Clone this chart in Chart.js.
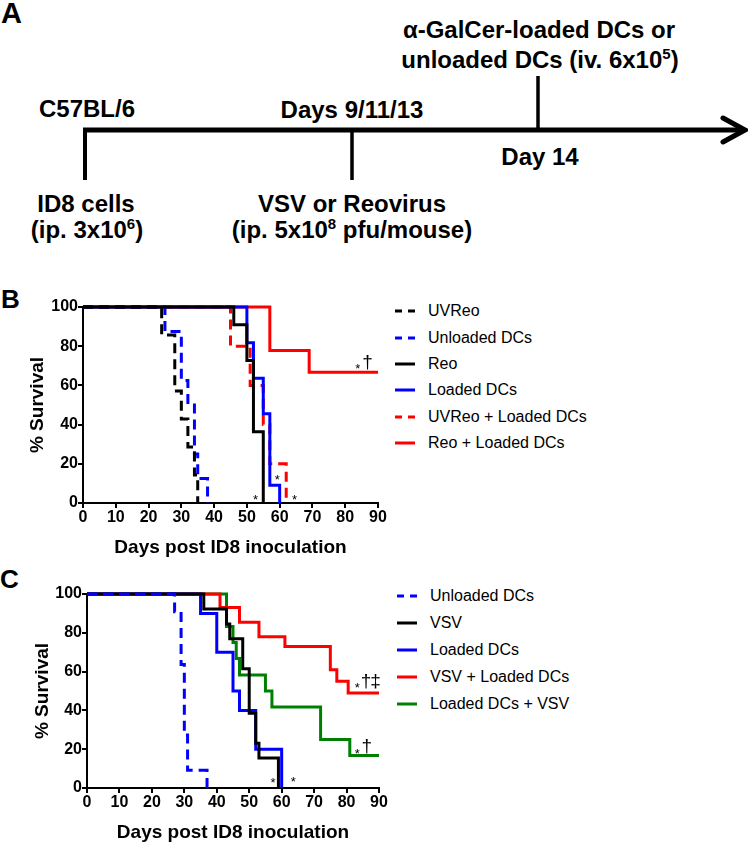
<!DOCTYPE html>
<html>
<head>
<meta charset="utf-8">
<script src="https://cdn.jsdelivr.net/npm/chart.js@4.4.0/dist/chart.umd.min.js"></script>
<style>
body { margin: 0; background: #fff; font-family: "Liberation Sans", Arial, sans-serif; }
#page { position: relative; width: 748px; height: 844px; overflow: hidden; }
#panelA { position: absolute; left: 0; top: 0; }
.plot { position: absolute; left: 0; }
.legend { position: absolute; font-size: 16px; color: #000; }
.legend .row { display: flex; align-items: center; }
.legend svg { margin-right: 13px; }
</style>
</head>
<body>
<div id="page">
<svg id="panelA" width="748" height="844" font-family="Liberation Sans, Arial, sans-serif" font-weight="bold" font-size="24" text-anchor="middle">
  <text x="1" y="23" font-size="29" text-anchor="start">A</text>
  <text x="1" y="308" font-size="26" text-anchor="start">B</text>
  <text x="0" y="588" font-size="26" text-anchor="start">C</text>

  <line x1="83" y1="130" x2="742" y2="130" stroke="#000" stroke-width="5"/>
  <line x1="85" y1="128" x2="85" y2="180" stroke="#000" stroke-width="4"/>
  <line x1="352" y1="130" x2="352" y2="180" stroke="#000" stroke-width="3.5"/>
  <line x1="538" y1="76" x2="538" y2="130" stroke="#000" stroke-width="3.5"/>
  <polyline points="723,118 745,130 723,142" fill="none" stroke="#000" stroke-width="5" stroke-linecap="round"/>

  <text x="539" y="38">α-GalCer-loaded DCs or</text>
  <text x="540" y="68">unloaded DCs (iv. 6x10<tspan font-size="15" dy="-9">5</tspan><tspan dy="9">)</tspan></text>
  <text x="87" y="117">C57BL/6</text>
  <text x="352" y="118">Days 9/11/13</text>
  <text x="540" y="165">Day 14</text>
  <text x="86" y="212">ID8 cells</text>
  <text x="87" y="238">(ip. 3x10<tspan font-size="15" dy="-9">6</tspan><tspan dy="9">)</tspan></text>
  <text x="352" y="212">VSV or Reovirus</text>
  <text x="352" y="238">(ip. 5x10<tspan font-size="15" dy="-9">8</tspan><tspan dy="9"> pfu/mouse)</tspan></text>
</svg>

<canvas id="chartB" class="plot" width="392" height="280" style="top:285px"></canvas>
<canvas id="chartC" class="plot" width="392" height="280" style="top:572px"></canvas>
<div id="legendB" class="legend" style="left:395px; top:298px"></div>
<div id="legendC" class="legend" style="left:397px; top:582px"></div>
</div>

<script>
var xTicks = [0, 10, 20, 30, 40, 50, 60, 70, 80, 90];
var yTicks = [0, 20, 40, 60, 80, 100];

// panel B - days and % survival
var bUVReoDays = [0, 24, 28, 30, 32, 34, 35];
var bUVReoSurv = [100, 85.7, 57.1, 42.9, 28.6, 14.3, 0];
var bUnloadedDays = [0, 25, 30, 32, 34, 35, 38];
var bUnloadedSurv = [100, 87.5, 62.5, 50, 25, 12.5, 0];
var bReoDays = [0, 46, 50, 52, 55];
var bReoSurv = [100, 90.9, 72.7, 36.4, 0];
var bLoadedDays = [0, 50, 52, 55, 57, 60];
var bLoadedSurv = [100, 81.8, 63.6, 45.5, 9.1, 0];
var bUVReoLoadedDays = [0, 45, 51, 55, 57, 62];
var bUVReoLoadedSurv = [100, 80, 60, 40, 20, 0];
var bReoLoadedDays = [0, 57, 69, 90];
var bReoLoadedSurv = [100, 77.8, 66.7, 66.7];

// panel C
var cUnloadedDays = [0, 27, 29, 30, 31, 37];
var cUnloadedSurv = [100, 90.9, 63.6, 27.3, 9.1, 0];
var cVSVDays = [0, 36, 43, 44, 48, 50, 52, 53, 59];
var cVSVSurv = [100, 92.3, 84.6, 76.9, 61.5, 38.5, 23.1, 15.4, 0];
var cLoadedDays = [0, 35, 40, 45, 47, 52, 60];
var cLoadedSurv = [100, 90, 70, 50, 40, 20, 0];
var cVSVLoadedDays = [0, 41, 47, 53, 61, 75, 77, 80.5, 90];
var cVSVLoadedSurv = [100, 93, 85.5, 78, 73, 61, 55, 49, 49];
var cLoadedVSVDays = [0, 43, 45, 46, 47, 55, 57, 72, 81, 90];
var cLoadedVSVSurv = [100, 83.3, 75, 66.7, 58.3, 50, 41.7, 25, 16.7, 16.7];

// significance marks (day, % survival, symbol)
var bNoteDays = [52.6, 59.3, 64.5, 83.8, 86.8];
var bNoteSurv = [3.2, 13.4, 3.2, 70.3, 71.5];
var bNoteText = ['*', '*', '*', '*', '†'];
var cNoteDays = [57.3, 63.6, 83.3, 86.0, 88.9, 83.3, 86.2];
var cNoteSurv = [4.3, 4.8, 53.5, 55, 55, 19.5, 21.2];
var cNoteText = ['*', '*', '*', '†', '‡', '*', '†'];

var FONT = "'Liberation Sans', Arial, sans-serif";

function pontos(days, surv) {
    var p = [];
    for (var i = 0; i < days.length; i++) {
        p.push({x: days[i], y: surv[i]});
    }
    return p;
}

function serie(label, days, surv, color, dashed, order) {
    return {
        label: label,
        data: pontos(days, surv),
        borderColor: color,
        backgroundColor: color,
        borderWidth: 3,
        borderDash: dashed ? [10, 6] : [],
        stepped: 'before',
        pointRadius: 0,
        fill: false,
        clip: false,
        order: order
    };
}

function notesPlugin(days, surv, text) {
    return {
        id: 'notes',
        afterDatasetsDraw: function (chart) {
            var c = chart.ctx;
            var xs = chart.scales.x, ys = chart.scales.y;
            c.save();
            c.fillStyle = '#000';
            c.textAlign = 'center';
            c.textBaseline = 'middle';
            for (var i = 0; i < days.length; i++) {
                var star = text[i] == '*';
                c.font = (star ? 13 : 19) + 'px ' + FONT;
                c.fillText(text[i], xs.getPixelForValue(days[i]), ys.getPixelForValue(surv[i]) + (star ? 4 : 0));
            }
            c.restore();
        }
    };
}

function geraGrafico(id, sets, yWidth, yTitlePad, pad, plugin) {
    var tickFont = {family: FONT, size: 16, weight: 'bold'};
    var titleFont = {family: FONT, size: 19, weight: 'bold'};
    var grid = {drawOnChartArea: false, drawTicks: true, tickLength: 5, color: '#000', lineWidth: 2};
    var border = {display: true, color: '#000', width: 2};
    return new Chart(document.getElementById(id), {
        type: 'line',
        data: {datasets: sets},
        options: {
            responsive: false,
            animation: false,
            layout: {padding: pad},
            plugins: {legend: {display: false}, tooltip: {enabled: false}},
            scales: {
                x: {
                    type: 'linear', min: 0, max: 90,
                    afterBuildTicks: function (s) { s.ticks = xTicks.map(function (v) { return {value: v}; }); },
                    afterFit: function (s) { s.height = 60; },
                    ticks: {font: tickFont, color: '#000', padding: 0, maxRotation: 0, autoSkip: false},
                    grid: grid, border: border,
                    title: {display: true, text: 'Days post ID8 inoculation', font: titleFont, color: '#000', padding: {top: 0, bottom: 4}}
                },
                y: {
                    type: 'linear', min: 0, max: 100,
                    afterBuildTicks: function (s) { s.ticks = yTicks.map(function (v) { return {value: v}; }); },
                    afterFit: function (s) { s.width = yWidth; },
                    ticks: {font: tickFont, color: '#000', padding: 0},
                    grid: grid, border: border,
                    title: {display: true, text: '% Survival', font: titleFont, color: '#000', padding: {top: yTitlePad, bottom: 0}}
                }
            }
        },
        plugins: [plugin]
    });
}

function geraLegenda(id, sets, rowHeight) {
    var box = document.getElementById(id);
    for (var i = 0; i < sets.length; i++) {
        var s = sets[i];
        var row = document.createElement('div');
        row.className = 'row';
        row.style.height = rowHeight + 'px';
        var dash = s.borderDash.length ? ' stroke-dasharray="7 6"' : '';
        row.innerHTML = '<svg width="20" height="4"><line x1="0" y1="2" x2="20" y2="2" stroke="' + s.borderColor +
            '" stroke-width="3"' + dash + '/></svg><span>' + s.label + '</span>';
        box.appendChild(row);
    }
}

var setsB = [
    serie('UVReo', bUVReoDays, bUVReoSurv, '#000000', true, 1),
    serie('Unloaded DCs', bUnloadedDays, bUnloadedSurv, '#0000ff', true, 2),
    serie('Reo', bReoDays, bReoSurv, '#000000', false, 0),
    serie('Loaded DCs', bLoadedDays, bLoadedSurv, '#0000ff', false, 3),
    serie('UVReo + Loaded DCs', bUVReoLoadedDays, bUVReoLoadedSurv, '#ff0000', true, 4),
    serie('Reo + Loaded DCs', bReoLoadedDays, bReoLoadedSurv, '#ff0000', false, 5)
];
var setsC = [
    serie('Unloaded DCs', cUnloadedDays, cUnloadedSurv, '#0000ff', true, 0),
    serie('VSV', cVSVDays, cVSVSurv, '#000000', false, 1),
    serie('Loaded DCs', cLoadedDays, cLoadedSurv, '#0000ff', false, 2),
    serie('VSV + Loaded DCs', cVSVLoadedDays, cVSVLoadedSurv, '#ff0000', false, 3),
    serie('Loaded DCs + VSV', cLoadedVSVDays, cLoadedVSVSurv, '#008000', false, 4)
];

geraGrafico('chartB', setsB, 83, 26, {top: 22, right: 14, left: 0, bottom: 2}, notesPlugin(bNoteDays, bNoteSurv, bNoteText));
geraGrafico('chartC', setsC, 87, 31, {top: 22, right: 13, left: 0, bottom: 4}, notesPlugin(cNoteDays, cNoteSurv, cNoteText));
geraLegenda('legendB', setsB, 26.4);
geraLegenda('legendC', setsC, 27);
</script>
</body>
</html>
